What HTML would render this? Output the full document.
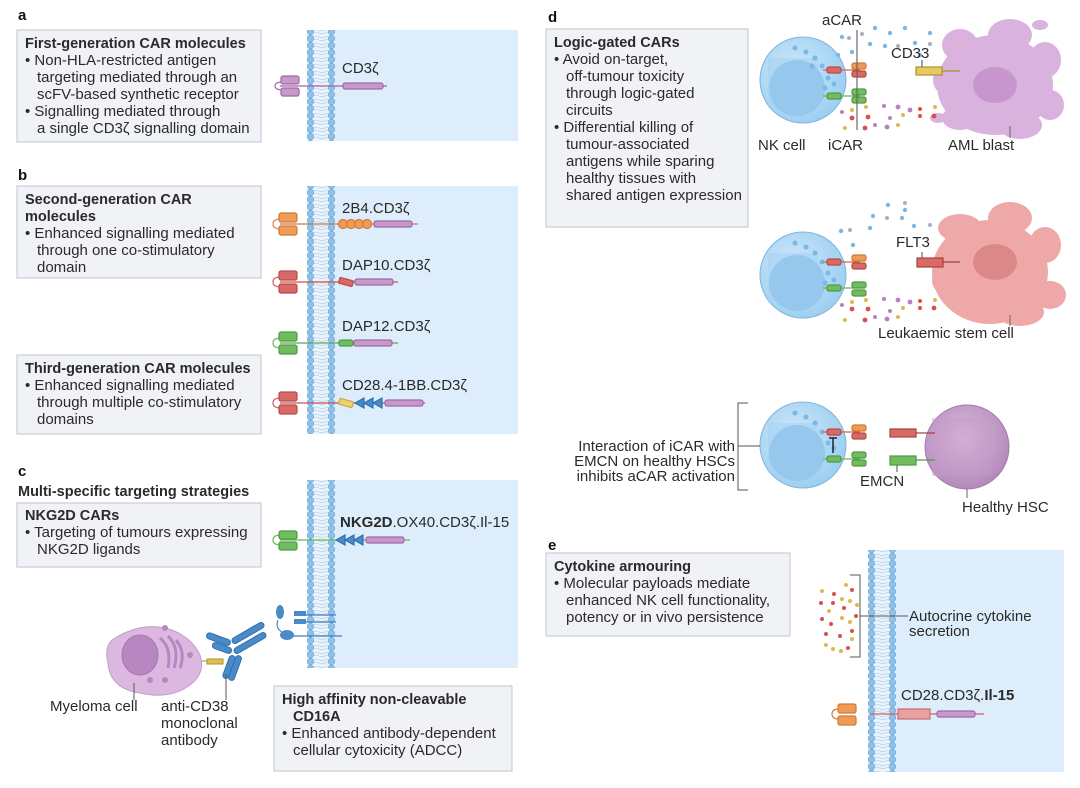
<!DOCTYPE html>
<html><head><meta charset="utf-8"><style>
body{margin:0;background:#fff}
svg{display:block}
text{font-family:"Liberation Sans",sans-serif;font-size:15px;fill:#2a2a2a}
.b{font-weight:bold;font-size:14.5px}
.L{font-weight:bold;font-size:15px;fill:#111}
</style></head><body>
<svg width="1080" height="788" viewBox="0 0 1080 788" xmlns="http://www.w3.org/2000/svg">
<defs>
<pattern id="mem" x="307" y="0" width="28" height="7" patternUnits="userSpaceOnUse">
<rect width="28" height="7" fill="#eaf3fb"/>
<path d="M6 2 q3 -1.5 6 0 t6 0 t6 0 M6 5 q3 -1.5 6 0 t6 0 t6 0" stroke="#b8d4ec" stroke-width="0.7" fill="none"/>
<circle cx="3.5" cy="3.5" r="3.3" fill="#8fc0e8" stroke="#6aa6d8" stroke-width="0.6"/>
<circle cx="24.5" cy="3.5" r="3.3" fill="#8fc0e8" stroke="#6aa6d8" stroke-width="0.6"/>
</pattern>
<pattern id="mem2" x="868" y="0" width="28" height="7" patternUnits="userSpaceOnUse">
<rect width="28" height="7" fill="#eaf3fb"/>
<path d="M6 2 q3 -1.5 6 0 t6 0 t6 0 M6 5 q3 -1.5 6 0 t6 0 t6 0" stroke="#b8d4ec" stroke-width="0.7" fill="none"/>
<circle cx="3.5" cy="3.5" r="3.3" fill="#8fc0e8" stroke="#6aa6d8" stroke-width="0.6"/>
<circle cx="24.5" cy="3.5" r="3.3" fill="#8fc0e8" stroke="#6aa6d8" stroke-width="0.6"/>
</pattern>
<radialGradient id="nk" cx="0.4" cy="0.4" r="0.6"><stop offset="0" stop-color="#cfe8fa"/><stop offset="1" stop-color="#9fd0f2"/></radialGradient>
<radialGradient id="hsc" cx="0.45" cy="0.4" r="0.6"><stop offset="0" stop-color="#dcc0de"/><stop offset="1" stop-color="#b489bb"/></radialGradient>
</defs>

<text class="L" x="18" y="20">a</text>
<text class="L" x="18" y="180">b</text>
<text class="L" x="18" y="476">c</text>
<text class="L" x="548" y="22">d</text>
<text class="L" x="548" y="550">e</text>

<g fill="#f0f2f6" stroke="#c9ced8" stroke-width="1.2">
<rect x="17" y="30" width="244" height="112"/>
<rect x="17" y="186" width="244" height="92"/>
<rect x="17" y="355" width="244" height="79"/>
<rect x="17" y="503" width="244" height="64"/>
<rect x="274" y="686" width="238" height="85"/>
<rect x="546" y="29" width="202" height="198"/>
<rect x="546" y="553" width="244" height="83"/>
</g>

<g fill="#deedfb">
<rect x="335" y="30" width="183" height="111"/>
<rect x="335" y="186" width="183" height="248"/>
<rect x="335" y="480" width="183" height="188"/>
<rect x="896" y="550" width="168" height="222"/>
</g>
<rect x="307" y="30" width="28" height="111" fill="url(#mem)"/>
<rect x="307" y="186" width="28" height="248" fill="url(#mem)"/>
<rect x="307" y="480" width="28" height="188" fill="url(#mem)"/>
<rect x="868" y="550" width="28" height="222" fill="url(#mem2)"/>

<text x="25" y="48" class="b">First-generation CAR molecules</text>
<text x="25" y="65">• Non-HLA-restricted antigen</text>
<text x="37" y="82">targeting mediated through an</text>
<text x="37" y="99">scFV-based synthetic receptor</text>
<text x="25" y="116">• Signalling mediated through</text>
<text x="37" y="133">a single CD3ζ signalling domain</text>

<text x="25" y="204" class="b">Second-generation CAR</text>
<text x="25" y="221" class="b">molecules</text>
<text x="25" y="238">• Enhanced signalling mediated</text>
<text x="37" y="255">through one co-stimulatory</text>
<text x="37" y="272">domain</text>

<text x="25" y="373" class="b">Third-generation CAR molecules</text>
<text x="25" y="390">• Enhanced signalling mediated</text>
<text x="37" y="407">through multiple co-stimulatory</text>
<text x="37" y="424">domains</text>

<text x="18" y="496" class="b">Multi-specific targeting strategies</text>
<text x="25" y="520" class="b">NKG2D CARs</text>
<text x="25" y="537">• Targeting of tumours expressing</text>
<text x="37" y="554">NKG2D ligands</text>

<text x="282" y="704" class="b">High affinity non-cleavable</text>
<text x="293" y="721" class="b">CD16A</text>
<text x="282" y="738">• Enhanced antibody-dependent</text>
<text x="293" y="755">cellular cytoxicity (ADCC)</text>

<text x="554" y="47" class="b">Logic-gated CARs</text>
<text x="554" y="64">• Avoid on-target,</text>
<text x="566" y="81">off-tumour toxicity</text>
<text x="566" y="98">through logic-gated</text>
<text x="566" y="115">circuits</text>
<text x="554" y="132">• Differential killing of</text>
<text x="566" y="149">tumour-associated</text>
<text x="566" y="166">antigens while sparing</text>
<text x="566" y="183">healthy tissues with</text>
<text x="566" y="200">shared antigen expression</text>

<text x="554" y="571" class="b">Cytokine armouring</text>
<text x="554" y="588">• Molecular payloads mediate</text>
<text x="566" y="605">enhanced NK cell functionality,</text>
<text x="566" y="622">potency or in vivo persistence</text>

<g stroke-width="1.2">
<line x1="280" y1="86" x2="387" y2="86" stroke="#a566a8"/>
<path d="M283 82 q-8 0 -8 4 q0 4 8 4" fill="none" stroke="#a566a8"/>
<rect x="281" y="76" width="18" height="8" rx="2" fill="#c59ac8" stroke="#a566a8"/>
<rect x="281" y="88" width="18" height="8" rx="2" fill="#c59ac8" stroke="#a566a8"/>
<rect x="343" y="83" width="40" height="6" rx="2" fill="#c59ac8" stroke="#a566a8"/>
<text x="342" y="73">CD3ζ</text>

<line x1="280" y1="224" x2="418" y2="224" stroke="#d07060"/>
<path d="M281 219 q-8 0 -8 5 q0 5 8 5" fill="none" stroke="#e08a4a"/>
<rect x="279" y="213" width="18" height="9" rx="2" fill="#ef9a55" stroke="#d07a35"/>
<rect x="279" y="226" width="18" height="9" rx="2" fill="#ef9a55" stroke="#d07a35"/>
<g fill="#ef9a55" stroke="#d07a35"><circle cx="343" cy="224" r="4.5"/><circle cx="351" cy="224" r="4.5"/><circle cx="359" cy="224" r="4.5"/><circle cx="367" cy="224" r="4.5"/></g>
<rect x="374" y="221" width="38" height="6" rx="2" fill="#c59ac8" stroke="#a566a8"/>
<text x="342" y="213">2B4.CD3ζ</text>

<line x1="280" y1="282" x2="398" y2="282" stroke="#d05050"/>
<path d="M281 277 q-8 0 -8 5 q0 5 8 5" fill="none" stroke="#d06060"/>
<rect x="279" y="271" width="18" height="9" rx="2" fill="#d86a66" stroke="#b84a48"/>
<rect x="279" y="284" width="18" height="9" rx="2" fill="#d86a66" stroke="#b84a48"/>
<rect x="339" y="279" width="14" height="6" rx="1" fill="#d86a66" stroke="#b84a48" transform="rotate(15 346 282)"/>
<rect x="355" y="279" width="38" height="6" rx="2" fill="#c59ac8" stroke="#a566a8"/>
<text x="342" y="270">DAP10.CD3ζ</text>

<line x1="280" y1="343" x2="398" y2="343" stroke="#5ca850"/>
<path d="M281 338 q-8 0 -8 5 q0 5 8 5" fill="none" stroke="#6ab85c"/>
<rect x="279" y="332" width="18" height="9" rx="2" fill="#70bc5e" stroke="#4e9a44"/>
<rect x="279" y="345" width="18" height="9" rx="2" fill="#70bc5e" stroke="#4e9a44"/>
<rect x="339" y="340" width="14" height="6" rx="2" fill="#70bc5e" stroke="#4e9a44"/>
<rect x="354" y="340" width="38" height="6" rx="2" fill="#c59ac8" stroke="#a566a8"/>
<text x="342" y="331">DAP12.CD3ζ</text>

<line x1="280" y1="403" x2="425" y2="403" stroke="#d05050"/>
<path d="M281 398 q-8 0 -8 5 q0 5 8 5" fill="none" stroke="#d06060"/>
<rect x="279" y="392" width="18" height="9" rx="2" fill="#d86a66" stroke="#b84a48"/>
<rect x="279" y="405" width="18" height="9" rx="2" fill="#d86a66" stroke="#b84a48"/>
<rect x="339" y="400" width="14" height="6" rx="1" fill="#f0d070" stroke="#c8a840" transform="rotate(15 346 403)"/>
<g fill="#4a8ac8" stroke="#3070b0"><polygon points="355,403 364,398 364,408"/><polygon points="364,403 373,398 373,408"/><polygon points="373,403 382,398 382,408"/></g>
<rect x="385" y="400" width="38" height="6" rx="2" fill="#c59ac8" stroke="#a566a8"/>
<text x="342" y="390">CD28.4-1BB.CD3ζ</text>

<line x1="280" y1="540" x2="410" y2="540" stroke="#6ab85c"/>
<path d="M281 535 q-8 0 -8 5 q0 5 8 5" fill="none" stroke="#6ab85c"/>
<rect x="279" y="531" width="18" height="8" rx="2" fill="#70bc5e" stroke="#4e9a44"/>
<rect x="279" y="542" width="18" height="8" rx="2" fill="#70bc5e" stroke="#4e9a44"/>
<g fill="#4a8ac8" stroke="#3070b0"><polygon points="336,540 345,535 345,545"/><polygon points="345,540 354,535 354,545"/><polygon points="354,540 363,535 363,545"/></g>
<rect x="366" y="537" width="38" height="6" rx="2" fill="#c59ac8" stroke="#a566a8"/>
<text x="340" y="527"><tspan style="font-weight:bold">NKG2D</tspan>.OX40.CD3ζ.Il-15</text>

<line x1="294" y1="615" x2="336" y2="615" stroke="#3c7cc0"/>
<line x1="294" y1="622" x2="336" y2="622" stroke="#3c7cc0"/>
<line x1="286" y1="636" x2="342" y2="636" stroke="#3c7cc0"/>
<rect x="294" y="611" width="12" height="5" fill="#4a8ac8"/>
<rect x="294" y="619" width="12" height="5" fill="#4a8ac8"/>
<ellipse cx="280" cy="612" rx="4" ry="7" fill="#4a8ac8"/>
<ellipse cx="287" cy="635" rx="7" ry="5" fill="#4a8ac8"/>
<path d="M278 620 q-3 8 4 12" fill="none" stroke="#4a8ac8"/>
</g>

<g stroke="#3070b0" stroke-width="1" fill="#4a8ac8">
<rect x="206" y="636" width="25" height="6" rx="3" transform="rotate(20 218 639)"/>
<rect x="230" y="630" width="36" height="6" rx="3" transform="rotate(-30 248 633)"/>
<rect x="232" y="640" width="36" height="6" rx="3" transform="rotate(-30 250 643)"/>
<rect x="212" y="645" width="20" height="6" rx="3" transform="rotate(20 222 648)"/>
<rect x="226" y="655" width="6" height="24" rx="3" transform="rotate(20 229 667)"/>
<rect x="232" y="655" width="6" height="26" rx="3" transform="rotate(20 235 668)"/>
</g>
<rect x="207" y="659" width="16" height="5" fill="#e0c050" stroke="#b09030"/>
<line x1="195" y1="661" x2="207" y2="661" stroke="#b09030"/>
<path d="M112 640 q30 -20 60 -10 q20 8 28 25 q6 18 -10 30 q-20 15 -50 8 q-30 -4 -32 -30 q-4 -15 4 -23z" fill="#dcb8e0" stroke="#c49ccb"/>
<ellipse cx="140" cy="655" rx="18" ry="20" fill="#b886c0" stroke="#a878b0"/>
<g fill="none" stroke="#b886c0" stroke-width="3"><path d="M160 638 q12 10 8 30"/><path d="M168 636 q12 12 6 32"/><path d="M176 640 q10 12 4 28"/></g>
<g fill="#b886c0"><circle cx="165" cy="628" r="3"/><circle cx="150" cy="680" r="3"/><circle cx="165" cy="680" r="3"/><circle cx="190" cy="655" r="3"/></g>
<line x1="134" y1="683" x2="134" y2="700" stroke="#555"/>
<line x1="226" y1="674" x2="226" y2="700" stroke="#555"/>
<text x="50" y="711">Myeloma cell</text>
<text x="161" y="711">anti-CD38</text>
<text x="161" y="728">monoclonal</text>
<text x="161" y="745">antibody</text>

<g fill="#d9b2de">
<ellipse cx="995" cy="85" rx="58" ry="50"/>
<ellipse cx="960" cy="45" rx="18" ry="16"/><ellipse cx="1010" cy="35" rx="22" ry="16"/><ellipse cx="1045" cy="60" rx="16" ry="18"/>
<ellipse cx="1050" cy="105" rx="14" ry="15"/><ellipse cx="1020" cy="125" rx="22" ry="14"/><ellipse cx="960" cy="118" rx="18" ry="12"/>
<ellipse cx="945" cy="80" rx="12" ry="14"/><ellipse cx="1040" cy="25" rx="8" ry="5"/><ellipse cx="938" cy="118" rx="8" ry="5"/>
</g>
<ellipse cx="995" cy="85" rx="22" ry="18" fill="#c896cf"/>
<line x1="1010" y1="126" x2="1010" y2="138" stroke="#666"/>
<g fill="#eea8a8">
<ellipse cx="990" cy="272" rx="58" ry="52"/>
<ellipse cx="960" cy="228" rx="22" ry="14"/><ellipse cx="1010" cy="218" rx="22" ry="16"/><ellipse cx="1045" cy="245" rx="16" ry="18"/>
<ellipse cx="1050" cy="295" rx="16" ry="14"/><ellipse cx="1020" cy="312" rx="24" ry="14"/><ellipse cx="975" cy="310" rx="16" ry="10"/>
<ellipse cx="944" cy="280" rx="12" ry="14"/><ellipse cx="950" cy="300" rx="8" ry="5"/>
</g>
<ellipse cx="995" cy="262" rx="22" ry="18" fill="#dc8888"/>
<line x1="1010" y1="315" x2="1010" y2="326" stroke="#666"/>
<circle cx="967" cy="447" r="42" fill="url(#hsc)" stroke="#a67aaf"/>
<rect x="932" y="418" width="60" height="58" fill="#c59ac8" opacity="0.45"/>
<line x1="967" y1="489" x2="967" y2="498" stroke="#666"/>

<g>
<circle cx="803" cy="80" r="43" fill="url(#nk)" stroke="#7fb4dc"/>
<rect x="768" y="58" width="50" height="50" fill="#a8d2f2" opacity="0.6"/>
<circle cx="797" cy="88" r="28" fill="#96c7ec"/>
<circle cx="803" cy="275" r="43" fill="url(#nk)" stroke="#7fb4dc"/>
<rect x="768" y="253" width="50" height="50" fill="#a8d2f2" opacity="0.6"/>
<circle cx="797" cy="283" r="28" fill="#96c7ec"/>
<circle cx="803" cy="445" r="43" fill="url(#nk)" stroke="#7fb4dc"/>
<rect x="768" y="423" width="50" height="50" fill="#a8d2f2" opacity="0.6"/>
<circle cx="797" cy="453" r="28" fill="#96c7ec"/>
</g>
<g fill="#7ab8e6">
<circle cx="795" cy="48" r="2.5"/><circle cx="806" cy="52" r="2.5"/><circle cx="815" cy="58" r="2.5"/><circle cx="822" cy="66" r="2.5"/><circle cx="828" cy="78" r="2.5"/><circle cx="825" cy="88" r="2.5"/><circle cx="834" cy="84" r="2.5"/><circle cx="812" cy="66" r="2.5"/>
<circle cx="795" cy="243" r="2.5"/><circle cx="806" cy="247" r="2.5"/><circle cx="815" cy="253" r="2.5"/><circle cx="822" cy="262" r="2.5"/><circle cx="828" cy="273" r="2.5"/><circle cx="825" cy="283" r="2.5"/><circle cx="834" cy="280" r="2.5"/>
<circle cx="795" cy="413" r="2.5"/><circle cx="806" cy="417" r="2.5"/><circle cx="815" cy="423" r="2.5"/><circle cx="822" cy="432" r="2.5"/><circle cx="828" cy="443" r="2.5"/><circle cx="834" cy="448" r="2.5"/>
</g>

<g stroke-width="1.2">
<line x1="823" y1="70" x2="860" y2="70" stroke="#d06060"/><rect x="827" y="67" width="14" height="6" rx="2" fill="#d86a66" stroke="#b84a48"/>
<rect x="852" y="63" width="14" height="6" rx="2" fill="#ef9a55" stroke="#d07a35"/><rect x="852" y="71" width="14" height="6" rx="2" fill="#d86a66" stroke="#b84a48"/>
<line x1="823" y1="96" x2="860" y2="96" stroke="#6ab85c"/><rect x="827" y="93" width="14" height="6" rx="2" fill="#70bc5e" stroke="#4e9a44"/>
<rect x="852" y="89" width="14" height="6" rx="2" fill="#70bc5e" stroke="#4e9a44"/><rect x="852" y="97" width="14" height="6" rx="2" fill="#70bc5e" stroke="#4e9a44"/>
<line x1="857" y1="30" x2="857" y2="130" stroke="#666"/>
<rect x="916" y="67" width="26" height="8" fill="#e8c860" stroke="#b09030"/><line x1="942" y1="71" x2="960" y2="71" stroke="#b09030"/>
<line x1="922" y1="60" x2="922" y2="67" stroke="#666"/>

<line x1="823" y1="262" x2="860" y2="262" stroke="#d06060"/><rect x="827" y="259" width="14" height="6" rx="2" fill="#d86a66" stroke="#b84a48"/>
<rect x="852" y="255" width="14" height="6" rx="2" fill="#ef9a55" stroke="#d07a35"/><rect x="852" y="263" width="14" height="6" rx="2" fill="#d86a66" stroke="#b84a48"/>
<line x1="823" y1="288" x2="860" y2="288" stroke="#6ab85c"/><rect x="827" y="285" width="14" height="6" rx="2" fill="#70bc5e" stroke="#4e9a44"/>
<rect x="852" y="282" width="14" height="6" rx="2" fill="#70bc5e" stroke="#4e9a44"/><rect x="852" y="290" width="14" height="6" rx="2" fill="#70bc5e" stroke="#4e9a44"/>
<rect x="917" y="258" width="26" height="9" fill="#d86a66" stroke="#a84040"/><line x1="943" y1="262" x2="960" y2="262" stroke="#a84040"/>
<line x1="922" y1="252" x2="922" y2="258" stroke="#666"/>

<line x1="823" y1="432" x2="860" y2="432" stroke="#d06060"/><rect x="827" y="429" width="14" height="6" rx="2" fill="#d86a66" stroke="#b84a48"/>
<rect x="852" y="425" width="14" height="6" rx="2" fill="#ef9a55" stroke="#d07a35"/><rect x="852" y="433" width="14" height="6" rx="2" fill="#d86a66" stroke="#b84a48"/>
<line x1="823" y1="459" x2="860" y2="459" stroke="#6ab85c"/><rect x="827" y="456" width="14" height="6" rx="2" fill="#70bc5e" stroke="#4e9a44"/>
<rect x="852" y="452" width="14" height="6" rx="2" fill="#70bc5e" stroke="#4e9a44"/><rect x="852" y="460" width="14" height="6" rx="2" fill="#70bc5e" stroke="#4e9a44"/>
<line x1="833" y1="438" x2="833" y2="453" stroke="#222" stroke-width="1.5"/><line x1="829" y1="438" x2="837" y2="438" stroke="#222" stroke-width="1.5"/>
<rect x="890" y="429" width="26" height="8" fill="#d86a66" stroke="#a84040"/><line x1="916" y1="433" x2="935" y2="433" stroke="#a84040"/>
<rect x="890" y="456" width="26" height="9" fill="#70bc5e" stroke="#4e9a44"/><line x1="916" y1="460" x2="935" y2="460" stroke="#4e9a44"/>
<line x1="897" y1="465" x2="897" y2="472" stroke="#666"/>
</g>

<g fill="#7ab8e6">
<circle cx="875" cy="28" r="2.2"/><circle cx="890" cy="33" r="2.2"/><circle cx="905" cy="28" r="2.2"/><circle cx="842" cy="37" r="2.2"/><circle cx="870" cy="44" r="2.2"/><circle cx="885" cy="46" r="2.2"/><circle cx="915" cy="43" r="2.2"/><circle cx="852" cy="52" r="2.2"/><circle cx="838" cy="55" r="2.2"/><circle cx="920" cy="55" r="2.2"/><circle cx="930" cy="33" r="2.2"/>
<circle cx="888" cy="205" r="2.2"/><circle cx="905" cy="210" r="2.2"/><circle cx="873" cy="216" r="2.2"/><circle cx="902" cy="218" r="2.2"/><circle cx="841" cy="231" r="2.2"/><circle cx="870" cy="228" r="2.2"/><circle cx="853" cy="245" r="2.2"/><circle cx="914" cy="226" r="2.2"/>
</g>
<g fill="#a9b0c4">
<circle cx="862" cy="34" r="2"/><circle cx="898" cy="46" r="2"/><circle cx="930" cy="44" r="2"/><circle cx="849" cy="38" r="2"/>
<circle cx="905" cy="203" r="2"/><circle cx="887" cy="218" r="2"/><circle cx="850" cy="230" r="2"/><circle cx="930" cy="225" r="2"/>
</g>
<g>
<circle cx="842" cy="112" r="2" fill="#b880c0"/><circle cx="852" cy="110" r="2" fill="#e0b850"/><circle cx="866" cy="107" r="2" fill="#e0b850"/><circle cx="884" cy="106" r="2" fill="#b880c0"/><circle cx="898" cy="107" r="2.4" fill="#b880c0"/><circle cx="910" cy="110" r="2.4" fill="#b880c0"/><circle cx="920" cy="109" r="2" fill="#d85050"/><circle cx="935" cy="107" r="2" fill="#e0b850"/>
<circle cx="852" cy="118" r="2.4" fill="#d85050"/><circle cx="868" cy="117" r="2.4" fill="#d85050"/><circle cx="890" cy="118" r="2" fill="#b880c0"/><circle cx="903" cy="115" r="2" fill="#e0b850"/><circle cx="920" cy="116" r="2" fill="#d85050"/><circle cx="934" cy="116" r="2.4" fill="#d85050"/>
<circle cx="845" cy="128" r="2" fill="#e0b850"/><circle cx="865" cy="128" r="2.4" fill="#d85050"/><circle cx="875" cy="125" r="2" fill="#b880c0"/><circle cx="887" cy="127" r="2.4" fill="#b880c0"/><circle cx="898" cy="125" r="2" fill="#e0b850"/>
<circle cx="842" cy="305" r="2" fill="#b880c0"/><circle cx="852" cy="302" r="2" fill="#e0b850"/><circle cx="866" cy="300" r="2" fill="#e0b850"/><circle cx="884" cy="299" r="2" fill="#b880c0"/><circle cx="898" cy="300" r="2.4" fill="#b880c0"/><circle cx="910" cy="302" r="2.4" fill="#b880c0"/><circle cx="920" cy="301" r="2" fill="#d85050"/><circle cx="935" cy="300" r="2" fill="#e0b850"/>
<circle cx="852" cy="309" r="2.4" fill="#d85050"/><circle cx="868" cy="309" r="2.4" fill="#d85050"/><circle cx="890" cy="311" r="2" fill="#b880c0"/><circle cx="903" cy="308" r="2" fill="#e0b850"/><circle cx="920" cy="308" r="2" fill="#d85050"/><circle cx="934" cy="308" r="2.4" fill="#d85050"/>
<circle cx="845" cy="320" r="2" fill="#e0b850"/><circle cx="865" cy="320" r="2.4" fill="#d85050"/><circle cx="875" cy="317" r="2" fill="#b880c0"/><circle cx="887" cy="319" r="2.4" fill="#b880c0"/><circle cx="898" cy="317" r="2" fill="#e0b850"/>
</g>

<text x="822" y="25">aCAR</text>
<text x="891" y="58">CD33</text>
<text x="758" y="150">NK cell</text>
<text x="828" y="150">iCAR</text>
<text x="948" y="150">AML blast</text>
<text x="896" y="247">FLT3</text>
<text x="878" y="338">Leukaemic stem cell</text>
<text x="735" y="451" text-anchor="end">Interaction of iCAR with</text>
<text x="735" y="466" text-anchor="end">EMCN on healthy HSCs</text>
<text x="735" y="481" text-anchor="end">inhibits aCAR activation</text>
<path d="M748 403 h-10 v87 h10" fill="none" stroke="#555"/>
<line x1="738" y1="446" x2="760" y2="446" stroke="#555"/>
<text x="860" y="486">EMCN</text>
<text x="962" y="512">Healthy HSC</text>

<path d="M850 575 h10 v82 h-10" fill="none" stroke="#555"/>
<line x1="860" y1="616" x2="908" y2="616" stroke="#555"/>
<g>
<circle cx="822" cy="591" r="2" fill="#e0b850"/><circle cx="846" cy="585" r="2" fill="#e0b850"/><circle cx="834" cy="594" r="2" fill="#d85050"/><circle cx="852" cy="590" r="2" fill="#d85050"/>
<circle cx="821" cy="603" r="2" fill="#d85050"/><circle cx="833" cy="603" r="2" fill="#d85050"/><circle cx="842" cy="599" r="2" fill="#e0b850"/><circle cx="850" cy="601" r="2" fill="#e0b850"/><circle cx="857" cy="605" r="2" fill="#e0b850"/>
<circle cx="829" cy="611" r="2" fill="#e0b850"/><circle cx="844" cy="608" r="2" fill="#d85050"/><circle cx="856" cy="616" r="2" fill="#d85050"/><circle cx="822" cy="619" r="2" fill="#d85050"/><circle cx="842" cy="618" r="2" fill="#e0b850"/>
<circle cx="831" cy="624" r="2" fill="#d85050"/><circle cx="850" cy="622" r="2" fill="#e0b850"/><circle cx="826" cy="634" r="2" fill="#d85050"/><circle cx="840" cy="636" r="2" fill="#d85050"/><circle cx="852" cy="631" r="2" fill="#d85050"/><circle cx="852" cy="639" r="2" fill="#e0b850"/>
<circle cx="826" cy="645" r="2" fill="#e0b850"/><circle cx="833" cy="649" r="2" fill="#e0b850"/><circle cx="841" cy="651" r="2" fill="#e0b850"/><circle cx="848" cy="648" r="2" fill="#d85050"/>
</g>
<text x="909" y="621">Autocrine cytokine</text>
<text x="909" y="636">secretion</text>
<text x="901" y="700">CD28.CD3ζ.<tspan style="font-weight:bold">Il-15</tspan></text>
<g stroke-width="1.2">
<line x1="870" y1="714" x2="984" y2="714" stroke="#d06060"/>
<path d="M839 709 q-7 0 -7 5 q0 5 7 5" fill="none" stroke="#d07a35"/>
<rect x="838" y="704" width="18" height="9" rx="2" fill="#ef9a55" stroke="#d07a35"/>
<rect x="838" y="716" width="18" height="9" rx="2" fill="#ef9a55" stroke="#d07a35"/>
<rect x="898" y="709" width="32" height="10" fill="#e8a0a0" stroke="#c87070"/>
<rect x="937" y="711" width="38" height="6" rx="2" fill="#c59ac8" stroke="#a566a8"/>
</g>
</svg>
</body></html>
